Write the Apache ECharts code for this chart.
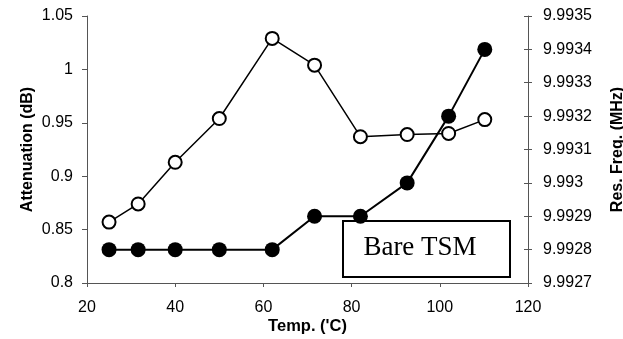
<!DOCTYPE html>
<html>
<head>
<meta charset="utf-8">
<title>Bare TSM</title>
<script src="https://cdn.jsdelivr.net/npm/echarts@6/dist/echarts.min.js"></script>
<style>
  html, body { margin: 0; padding: 0; background: #fff; }
  #chart { width: 623px; height: 339px; }
</style>
</head>
<body>
<div id="chart"></div>
<script>
// temperature points (°C)
const temps = [25, 31.6, 40, 50, 62, 71.6, 82, 92.6, 102, 110.2];
// attenuation (dB), open circles, left axis
const attenuation = [0.857, 0.874, 0.913, 0.954, 1.029, 1.004, 0.937, 0.939, 0.940, 0.953];
// resonant frequency (MHz), filled circles, right axis
const resFreq = [9.9928, 9.9928, 9.9928, 9.9928, 9.9928, 9.9929, 9.9929, 9.9930, 9.9932, 9.9934];

const chart = echarts.init(document.getElementById('chart'));

const axisColor = '#555';
const labelFont = { color: '#000', fontFamily: 'Liberation Sans, Arial', fontSize: 16 };
const nameFont = { color: '#000', fontFamily: 'Liberation Sans, Arial', fontSize: 16, fontWeight: 'bold' };

const option = {
  backgroundColor: '#fff',
  animation: false,
  grid: { left: 87, right: 95, top: 16, bottom: 56, outerBoundsMode: 'none', containLabel: false },
  xAxis: {
    type: 'value',
    min: 20,
    max: 120,
    interval: 20,
    name: "Temp. ('C)",
    nameLocation: 'middle',
    nameGap: 35,
    nameMoveOverlap: false,
    nameTextStyle: { ...nameFont, fontSize: 16.5 },
    axisLine: { lineStyle: { color: axisColor, width: 1 } },
    axisTick: { inside: false, length: 4, lineStyle: { color: axisColor } },
    axisLabel: { ...labelFont, margin: 17 },
    splitLine: { show: false }
  },
  yAxis: [
    {
      type: 'value',
      position: 'left',
      min: 0.8,
      max: 1.05,
      interval: 0.05,
      name: 'Attenuation (dB)',
      nameLocation: 'middle',
      nameGap: 51,
      nameMoveOverlap: false,
      nameTextStyle: nameFont,
      axisLine: { show: true, lineStyle: { color: axisColor, width: 1 } },
      axisTick: { show: true, length: 5, lineStyle: { color: axisColor } },
      axisLabel: { ...labelFont, margin: 14 },
      splitLine: { show: false }
    },
    {
      type: 'value',
      position: 'right',
      min: 9.9927,
      max: 9.9935,
      interval: 0.0001,
      name: 'Res. Freq. (MHz)',
      nameLocation: 'middle',
      nameGap: 82,
      nameMoveOverlap: false,
      nameTextStyle: nameFont,
      axisLine: { show: true, lineStyle: { color: axisColor, width: 1 } },
      axisTick: { show: true, length: 4, lineStyle: { color: axisColor } },
      axisLabel: {
        ...labelFont,
        margin: 15,
        formatter: (v) => String(parseFloat(v.toFixed(4)))
      },
      splitLine: { show: false }
    },
    {
      // inner half of the crossing ticks on the right axis
      type: 'value',
      position: 'right',
      min: 9.9927,
      max: 9.9935,
      interval: 0.0001,
      axisLine: { show: false },
      axisTick: { show: true, inside: true, length: 4, lineStyle: { color: axisColor } },
      axisLabel: { show: false },
      splitLine: { show: false }
    }
  ],
  graphic: [
    {
      type: 'group',
      z: 100,
      children: [
        {
          type: 'rect',
          shape: { x: 343, y: 221, width: 167, height: 56 },
          style: { fill: '#fff', stroke: '#000', lineWidth: 2 }
        },
        {
          type: 'text',
          x: 420,
          y: 248,
          style: {
            text: 'Bare TSM',
            fill: '#000',
            font: '27px "Liberation Serif", "Times New Roman", serif',
            textAlign: 'center',
            textVerticalAlign: 'middle'
          }
        }
      ]
    }
  ],
  series: [
    {
      name: 'Attenuation',
      type: 'line',
      yAxisIndex: 0,
      data: temps.map((t, i) => [t, attenuation[i]]),
      symbol: 'circle',
      symbolSize: 13,
      lineStyle: { color: '#000', width: 1.5 },
      itemStyle: { color: '#fff', borderColor: '#000', borderWidth: 2 },
      z: 3
    },
    {
      name: 'Res. Freq.',
      type: 'line',
      yAxisIndex: 1,
      data: temps.map((t, i) => [t, resFreq[i]]),
      symbol: 'circle',
      symbolSize: 15,
      lineStyle: { color: '#000', width: 2 },
      itemStyle: { color: '#000', borderColor: '#000', borderWidth: 0 },
      z: 2
    }
  ]
};

chart.setOption(option);
</script>
</body>
</html>
